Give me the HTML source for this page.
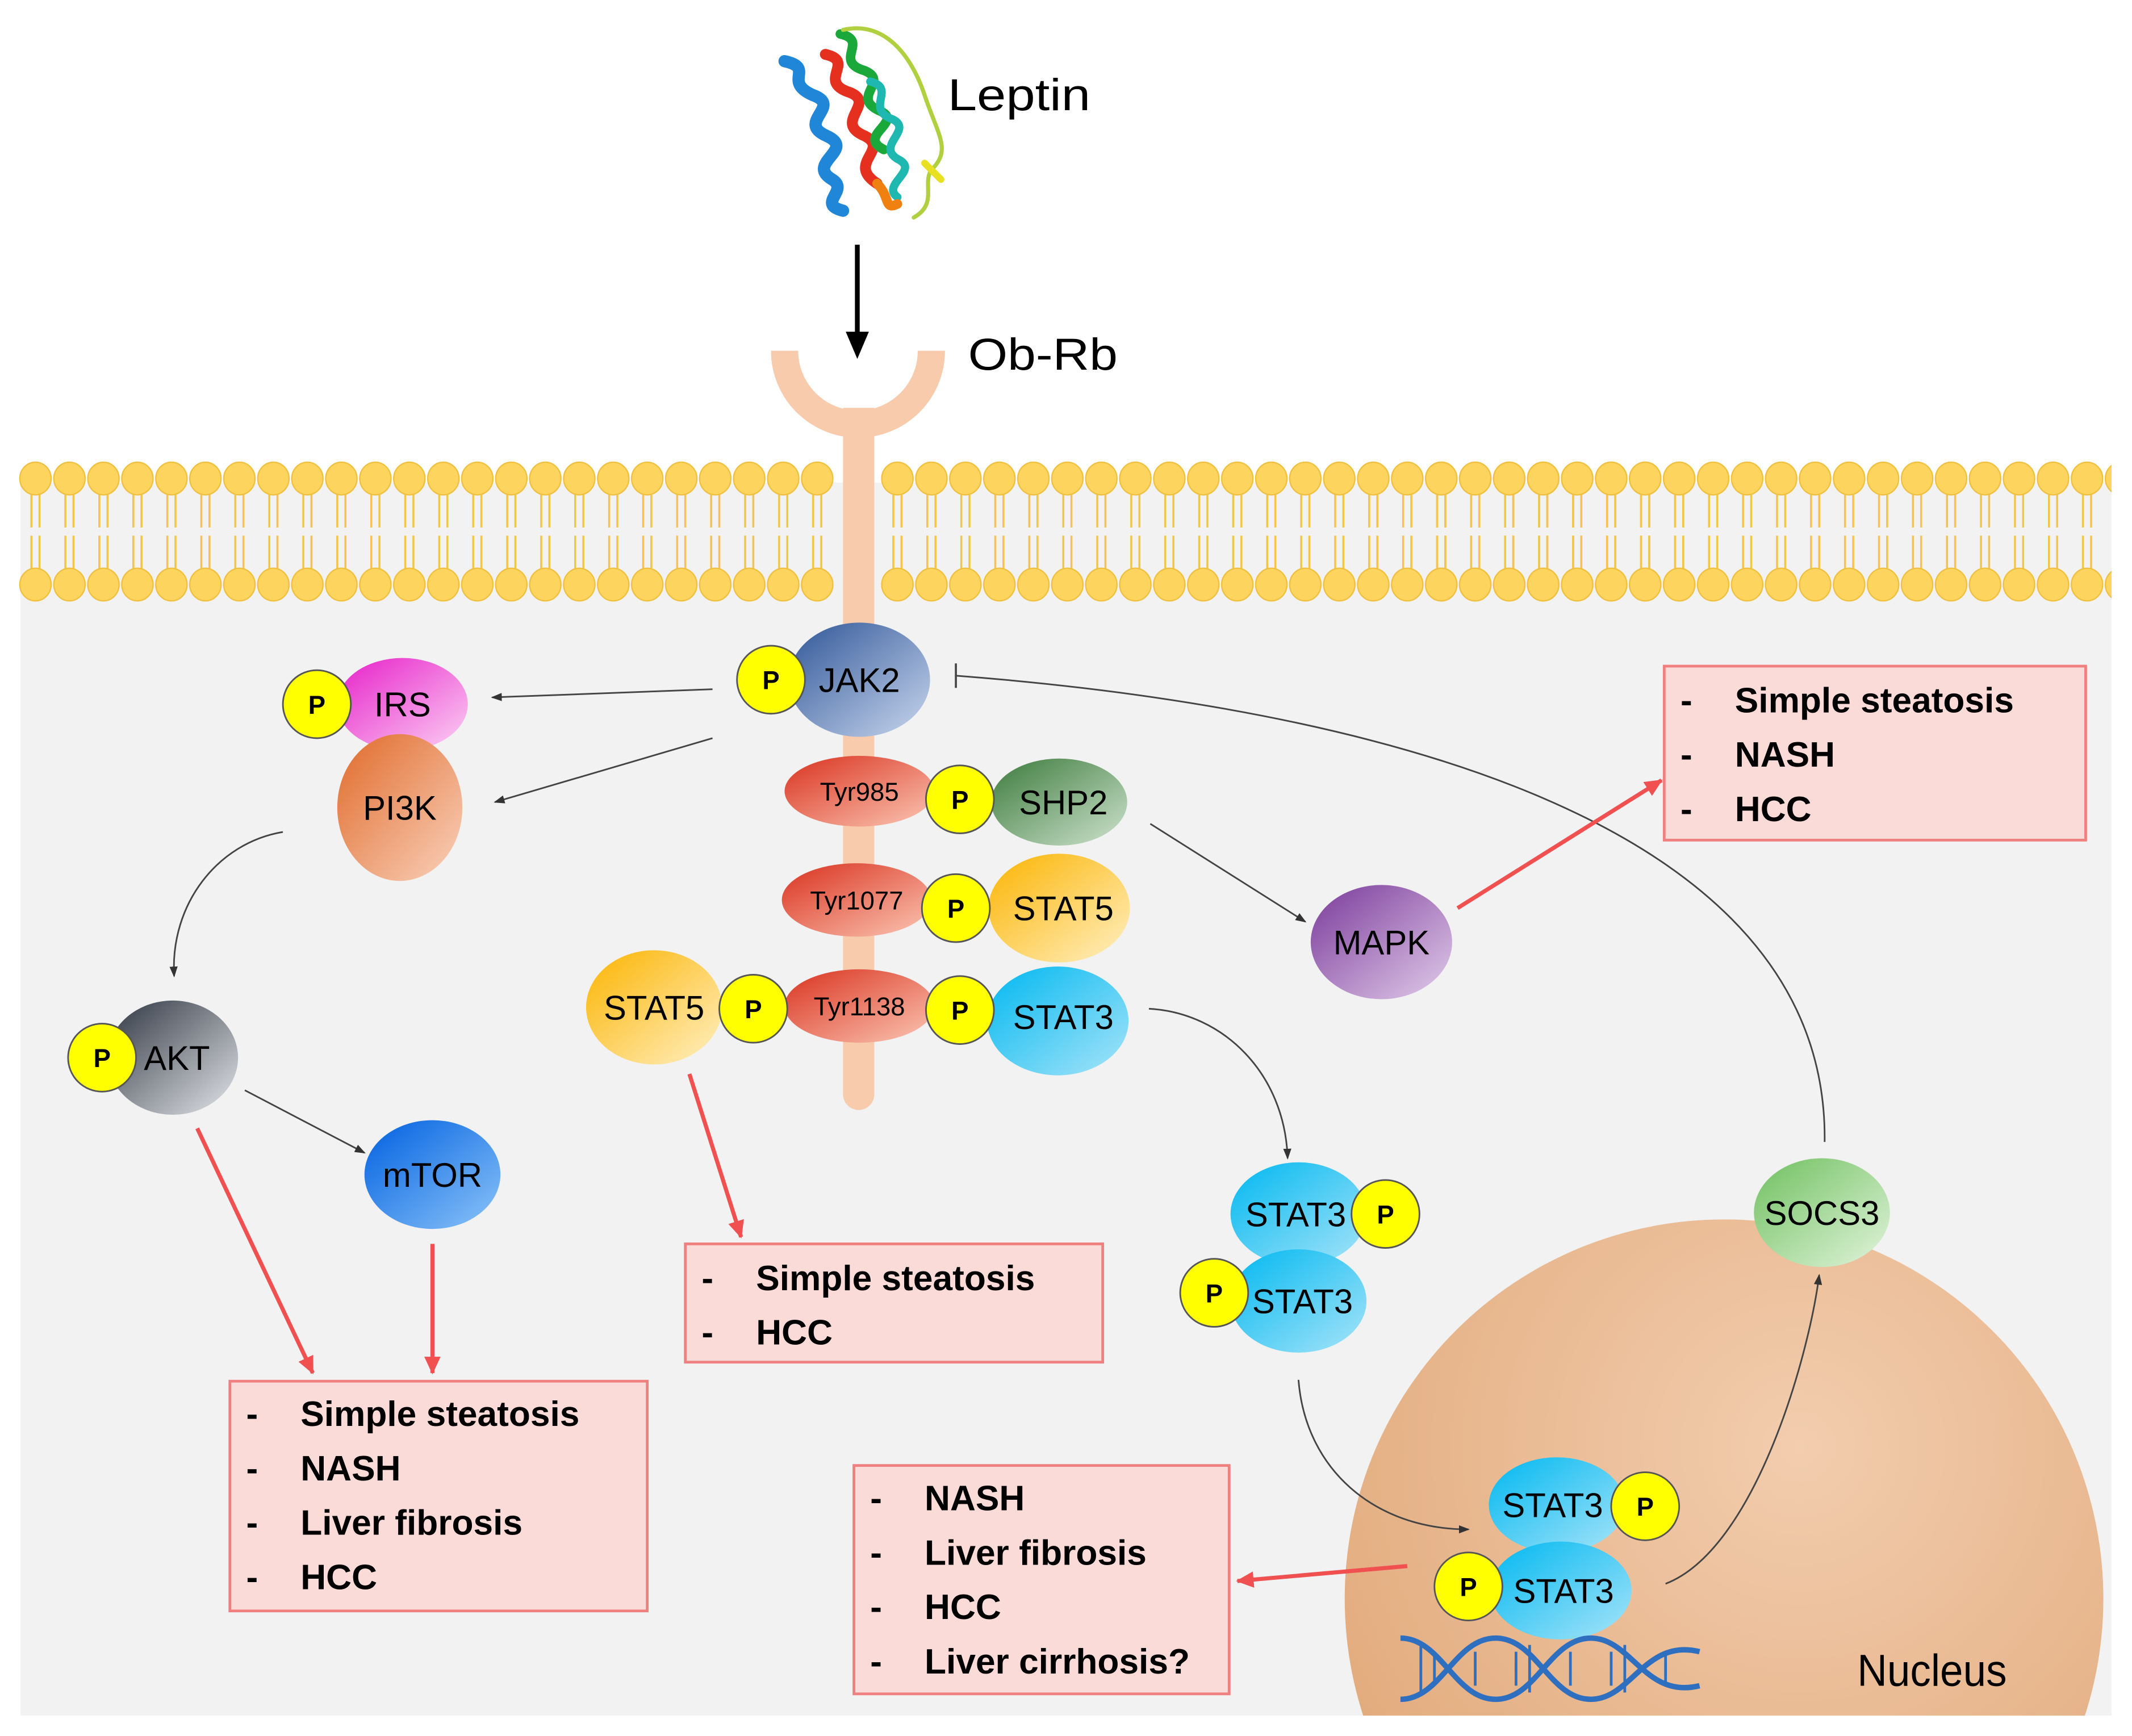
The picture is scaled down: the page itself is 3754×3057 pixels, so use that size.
<!DOCTYPE html>
<html><head><meta charset="utf-8"><style>
html,body{margin:0;padding:0;background:#fff;width:3754px;height:3057px;overflow:hidden}
svg{display:block}
text{font-family:"Liberation Sans",sans-serif}
</style></head><body>
<svg width="3754" height="3057" viewBox="0 0 1568 1277" xmlns="http://www.w3.org/2000/svg">
<defs>
<linearGradient id="gJ" x1="0" y1="0" x2="1" y2="1"><stop offset="0" stop-color="#2f5597"/><stop offset="1" stop-color="#c9d7ee"/></linearGradient>
<linearGradient id="gI" x1="0" y1="0" x2="1" y2="1"><stop offset="0" stop-color="#e61fc8"/><stop offset="1" stop-color="#fcd2f4"/></linearGradient>
<linearGradient id="gP" x1="0" y1="0" x2="1" y2="1"><stop offset="0" stop-color="#e06a2a"/><stop offset="1" stop-color="#f9d2bd"/></linearGradient>
<linearGradient id="gA" x1="0" y1="0" x2="1" y2="1"><stop offset="0" stop-color="#2e3540"/><stop offset="1" stop-color="#e4e6ea"/></linearGradient>
<linearGradient id="gM" x1="0" y1="0" x2="1" y2="1"><stop offset="0" stop-color="#0060e0"/><stop offset="1" stop-color="#8cc4f8"/></linearGradient>
<linearGradient id="gT" x1="0" y1="0" x2="1" y2="1"><stop offset="0" stop-color="#d9321e"/><stop offset="1" stop-color="#fbc7b5"/></linearGradient>
<linearGradient id="gS" x1="0" y1="0" x2="1" y2="1"><stop offset="0" stop-color="#3c7a3c"/><stop offset="1" stop-color="#cfe3cf"/></linearGradient>
<linearGradient id="g5" x1="0" y1="0" x2="1" y2="1"><stop offset="0" stop-color="#fbb400"/><stop offset="1" stop-color="#fff0c4"/></linearGradient>
<linearGradient id="g3" x1="0" y1="0" x2="1" y2="1"><stop offset="0" stop-color="#00b8f0"/><stop offset="1" stop-color="#a8e4f8"/></linearGradient>
<linearGradient id="gK" x1="0" y1="0" x2="1" y2="1"><stop offset="0" stop-color="#7a3a9a"/><stop offset="1" stop-color="#e2cdea"/></linearGradient>
<linearGradient id="gO" x1="0" y1="0" x2="1" y2="1"><stop offset="0" stop-color="#70c060"/><stop offset="1" stop-color="#e2f4dc"/></linearGradient>
<radialGradient id="gN" cx="0.6" cy="0.3" r="0.8"><stop offset="0" stop-color="#f2cdae"/><stop offset="1" stop-color="#e0a676"/></radialGradient>
<marker id="ab" markerWidth="8" markerHeight="8" refX="7" refY="4" orient="auto" markerUnits="userSpaceOnUse"><path d="M0,1 L8,4 L0,7z" fill="#333"/></marker>
<marker id="ar" markerWidth="14" markerHeight="14" refX="12" refY="7" orient="auto" markerUnits="userSpaceOnUse"><path d="M0,1 L13,7 L0,13z" fill="#f05050"/></marker>
<clipPath id="memclip"><rect x="0" y="0" width="1553" height="1277"/></clipPath>
<clipPath id="cl"><rect x="0" y="0" width="1568" height="1262"/></clipPath>
</defs>

<rect x="15" y="355" width="1538" height="907" fill="#f2f2f2"/>

<g stroke="#f3c54a" stroke-width="1.5" fill="none" clip-path="url(#memclip)">
<path id="tails" d="M23 362V388M29 362V388M23 394V420M29 394V420M48 362V388M54 362V388M48 394V420M54 394V420M73 362V388M79 362V388M73 394V420M79 394V420M98 362V388M104 362V388M98 394V420M104 394V420M123 362V388M129 362V388M123 394V420M129 394V420M148 362V388M154 362V388M148 394V420M154 394V420M173 362V388M179 362V388M173 394V420M179 394V420M198 362V388M204 362V388M198 394V420M204 394V420M223 362V388M229 362V388M223 394V420M229 394V420M248 362V388M254 362V388M248 394V420M254 394V420M273 362V388M279 362V388M273 394V420M279 394V420M298 362V388M304 362V388M298 394V420M304 394V420M323 362V388M329 362V388M323 394V420M329 394V420M348 362V388M354 362V388M348 394V420M354 394V420M373 362V388M379 362V388M373 394V420M379 394V420M398 362V388M404 362V388M398 394V420M404 394V420M423 362V388M429 362V388M423 394V420M429 394V420M448 362V388M454 362V388M448 394V420M454 394V420M473 362V388M479 362V388M473 394V420M479 394V420M498 362V388M504 362V388M498 394V420M504 394V420M523 362V388M529 362V388M523 394V420M529 394V420M548 362V388M554 362V388M548 394V420M554 394V420M573 362V388M579 362V388M573 394V420M579 394V420M598 362V388M604 362V388M598 394V420M604 394V420"/>
<use href="#tails" transform="translate(634 0)"/>
<use href="#tails" transform="translate(1034 0)"/>
</g>
<g fill="#fcd45e" stroke="#f0c040" stroke-width="1" clip-path="url(#memclip)">
<g id="heads">
<ellipse cx="26" cy="352" rx="11.5" ry="12"/><ellipse cx="51" cy="352" rx="11.5" ry="12"/><ellipse cx="76" cy="352" rx="11.5" ry="12"/><ellipse cx="101" cy="352" rx="11.5" ry="12"/><ellipse cx="126" cy="352" rx="11.5" ry="12"/><ellipse cx="151" cy="352" rx="11.5" ry="12"/><ellipse cx="176" cy="352" rx="11.5" ry="12"/><ellipse cx="201" cy="352" rx="11.5" ry="12"/><ellipse cx="226" cy="352" rx="11.5" ry="12"/><ellipse cx="251" cy="352" rx="11.5" ry="12"/><ellipse cx="276" cy="352" rx="11.5" ry="12"/><ellipse cx="301" cy="352" rx="11.5" ry="12"/><ellipse cx="326" cy="352" rx="11.5" ry="12"/><ellipse cx="351" cy="352" rx="11.5" ry="12"/><ellipse cx="376" cy="352" rx="11.5" ry="12"/><ellipse cx="401" cy="352" rx="11.5" ry="12"/><ellipse cx="426" cy="352" rx="11.5" ry="12"/><ellipse cx="451" cy="352" rx="11.5" ry="12"/><ellipse cx="476" cy="352" rx="11.5" ry="12"/><ellipse cx="501" cy="352" rx="11.5" ry="12"/><ellipse cx="526" cy="352" rx="11.5" ry="12"/><ellipse cx="551" cy="352" rx="11.5" ry="12"/><ellipse cx="576" cy="352" rx="11.5" ry="12"/><ellipse cx="601" cy="352" rx="11.5" ry="12"/>
<ellipse cx="26" cy="430" rx="11.5" ry="12"/><ellipse cx="51" cy="430" rx="11.5" ry="12"/><ellipse cx="76" cy="430" rx="11.5" ry="12"/><ellipse cx="101" cy="430" rx="11.5" ry="12"/><ellipse cx="126" cy="430" rx="11.5" ry="12"/><ellipse cx="151" cy="430" rx="11.5" ry="12"/><ellipse cx="176" cy="430" rx="11.5" ry="12"/><ellipse cx="201" cy="430" rx="11.5" ry="12"/><ellipse cx="226" cy="430" rx="11.5" ry="12"/><ellipse cx="251" cy="430" rx="11.5" ry="12"/><ellipse cx="276" cy="430" rx="11.5" ry="12"/><ellipse cx="301" cy="430" rx="11.5" ry="12"/><ellipse cx="326" cy="430" rx="11.5" ry="12"/><ellipse cx="351" cy="430" rx="11.5" ry="12"/><ellipse cx="376" cy="430" rx="11.5" ry="12"/><ellipse cx="401" cy="430" rx="11.5" ry="12"/><ellipse cx="426" cy="430" rx="11.5" ry="12"/><ellipse cx="451" cy="430" rx="11.5" ry="12"/><ellipse cx="476" cy="430" rx="11.5" ry="12"/><ellipse cx="501" cy="430" rx="11.5" ry="12"/><ellipse cx="526" cy="430" rx="11.5" ry="12"/><ellipse cx="551" cy="430" rx="11.5" ry="12"/><ellipse cx="576" cy="430" rx="11.5" ry="12"/><ellipse cx="601" cy="430" rx="11.5" ry="12"/>
</g>
<use href="#heads" transform="translate(634 0)"/>
<use href="#heads" transform="translate(1034 0)"/>
</g>

<path d="M567 258 A64 64 0 0 0 695 258 L675 258 A44 44 0 0 1 587 258Z" fill="#f8cbad"/>
<rect x="620" y="300" width="23" height="505" fill="#f8cbad"/>
<circle cx="631.5" cy="805" r="11.5" fill="#f8cbad"/>

<g fill="none" stroke-linecap="round">
<path d="M577 45 C600 50,575 60,598 70 C620 78,585 90,608 100 C630 110,592 120,612 132 C625 140,600 150,620 155" stroke="#1f86d8" stroke-width="9"/>
<path d="M607 40 C630 45,600 60,625 68 C645 76,612 90,636 100 C655 110,622 120,645 135" stroke="#e53020" stroke-width="8"/>
<path d="M618 25 C640 30,612 45,636 52 C655 60,624 72,648 82 C664 90,630 100,650 110" stroke="#1aa83a" stroke-width="7"/>
<path d="M640 60 C660 65,635 80,657 88 C672 96,642 108,662 118 C675 126,648 136,660 145" stroke="#1fb8b0" stroke-width="6"/>
<path d="M645 135 C655 145,650 155,660 150" stroke="#f08010" stroke-width="7"/>
<path d="M620 22 C650 15,670 40,680 70 C690 100,700 110,685 125 C678 135,690 150,672 160" stroke="#b0d040" stroke-width="3"/>
<path d="M680 120 L692 132" stroke="#e8e020" stroke-width="5"/>
</g>

<text x="697" y="81" font-size="33" textLength="105" lengthAdjust="spacingAndGlyphs">Leptin</text>
<text x="712" y="272" font-size="33" textLength="110" lengthAdjust="spacingAndGlyphs">Ob-Rb</text>
<line x1="630.5" y1="180" x2="630.5" y2="248" stroke="#000" stroke-width="3.5"/>
<path d="M622 244 L639 244 L630.5 264Z" fill="#000"/>

<circle cx="1268" cy="1176" r="279" fill="url(#gN)" clip-path="url(#cl)"/>
<text x="1366" y="1240" font-size="33" textLength="110" lengthAdjust="spacingAndGlyphs">Nucleus</text>

<g stroke="#444" stroke-width="1.2" fill="none" marker-end="url(#ab)">
<line x1="524" y1="507" x2="362" y2="513"/>
<line x1="524" y1="543" x2="364" y2="590"/>
<path d="M208 612 C160 620,125 665,128 718"/>
<line x1="180" y1="802" x2="268" y2="848"/>
<line x1="846" y1="606" x2="960" y2="678"/>
<path d="M845 742 C900 745,945 790,947 852"/>
<path d="M955 1015 C960 1080,1010 1125,1080 1125"/>
<path d="M1225 1165 C1290 1140,1330 1000,1338 938"/>
</g>
<path d="M1342 840 C1345 600,1000 520,703 497" stroke="#444" stroke-width="1.2" fill="none"/>
<line x1="703" y1="488" x2="703" y2="506" stroke="#444" stroke-width="1.5"/>

<g stroke="#f05050" stroke-width="3" fill="none" marker-end="url(#ar)">
<line x1="145" y1="830" x2="230" y2="1010"/>
<line x1="318" y1="915" x2="318" y2="1010"/>
<line x1="507" y1="790" x2="545" y2="910"/>
<line x1="1072" y1="668" x2="1222" y2="574"/>
<line x1="1035" y1="1152" x2="910" y2="1163"/>
</g>

<g font-size="25" text-anchor="middle">
<ellipse cx="632" cy="500" rx="52" ry="42" fill="url(#gJ)"/><text x="632" y="509">JAK2</text>
<ellipse cx="296" cy="518" rx="48" ry="34" fill="url(#gI)"/><text x="296" y="527">IRS</text>
<ellipse cx="294" cy="594" rx="46" ry="54" fill="url(#gP)"/><text x="294" y="603">PI3K</text>
<ellipse cx="127" cy="778" rx="48" ry="42" fill="url(#gA)"/><text x="130" y="787">AKT</text>
<ellipse cx="318" cy="864" rx="50" ry="40" fill="url(#gM)"/><text x="318" y="873">mTOR</text>
<ellipse cx="632" cy="582" rx="55" ry="26" fill="url(#gT)"/><text x="632" y="589" font-size="19">Tyr985</text>
<ellipse cx="779" cy="590" rx="50" ry="32" fill="url(#gS)"/><text x="782" y="599">SHP2</text>
<ellipse cx="630" cy="662" rx="55" ry="27" fill="url(#gT)"/><text x="630" y="669" font-size="19">Tyr1077</text>
<ellipse cx="779" cy="668" rx="52" ry="40" fill="url(#g5)"/><text x="782" y="677">STAT5</text>
<ellipse cx="481" cy="741" rx="50" ry="42" fill="url(#g5)"/><text x="481" y="750">STAT5</text>
<ellipse cx="632" cy="740" rx="55" ry="27" fill="url(#gT)"/><text x="632" y="747" font-size="19">Tyr1138</text>
<ellipse cx="778" cy="751" rx="52" ry="40" fill="url(#g3)"/><text x="782" y="757">STAT3</text>
<ellipse cx="1016" cy="693" rx="52" ry="42" fill="url(#gK)"/><text x="1016" y="702">MAPK</text>
<ellipse cx="955" cy="893" rx="50" ry="38" fill="url(#g3)"/><text x="953" y="902">STAT3</text>
<ellipse cx="955" cy="957" rx="50" ry="38" fill="url(#g3)"/><text x="958" y="966">STAT3</text>
<ellipse cx="1340" cy="892" rx="50" ry="40" fill="url(#gO)"/><text x="1340" y="901">SOCS3</text>
<ellipse cx="1145" cy="1107" rx="50" ry="35" fill="url(#g3)"/><text x="1142" y="1116">STAT3</text>
<ellipse cx="1148" cy="1170" rx="52" ry="36" fill="url(#g3)"/><text x="1150" y="1179">STAT3</text>
</g>

<g fill="#ffff00" stroke="#555" stroke-width="1.2">
<circle cx="567" cy="500" r="25"/><circle cx="233" cy="518" r="25"/><circle cx="75" cy="778" r="25"/>
<circle cx="706" cy="588" r="25"/><circle cx="703" cy="668" r="25"/><circle cx="554" cy="742" r="25"/>
<circle cx="706" cy="743" r="25"/><circle cx="1019" cy="893" r="25"/><circle cx="893" cy="951" r="25"/>
<circle cx="1210" cy="1108" r="25"/><circle cx="1080" cy="1167" r="25"/>
</g>
<g font-size="19" font-weight="bold" text-anchor="middle">
<text x="567" y="507">P</text><text x="233" y="525">P</text><text x="75" y="785">P</text>
<text x="706" y="595">P</text><text x="703" y="675">P</text><text x="554" y="749">P</text>
<text x="706" y="750">P</text><text x="1019" y="900">P</text><text x="893" y="958">P</text>
<text x="1210" y="1115">P</text><text x="1080" y="1174">P</text>
</g>

<g fill="none" stroke="#2e6fc0" stroke-width="4">
<path d="M1030 1205 C1060 1205,1070 1250,1100 1250 C1130 1250,1140 1205,1170 1205 C1200 1205,1210 1250,1250 1240"/>
<path d="M1030 1250 C1060 1250,1070 1205,1100 1205 C1130 1205,1140 1250,1170 1250 C1200 1250,1210 1205,1250 1215"/>
</g>
<g stroke="#2e6fc0" stroke-width="2">
<path d="M1045 1210V1245M1055 1215V1240M1085 1215V1240M1115 1215V1240M1125 1210V1245M1155 1215V1240M1185 1215V1240M1195 1210V1245M1225 1215V1240"/>
</g>

<g fill="#fadbd8" stroke="#f08080" stroke-width="2">
<rect x="1224" y="490" width="310" height="128"/>
<rect x="504" y="915" width="307" height="87"/>
<rect x="169" y="1016" width="307" height="169"/>
<rect x="628" y="1078" width="276" height="168"/>
</g>
<g font-size="26" font-weight="bold">
<text x="1236" y="524">-</text><text x="1276" y="524">Simple steatosis</text>
<text x="1236" y="564">-</text><text x="1276" y="564">NASH</text>
<text x="1236" y="604">-</text><text x="1276" y="604">HCC</text>
<text x="516" y="949">-</text><text x="556" y="949">Simple steatosis</text>
<text x="516" y="989">-</text><text x="556" y="989">HCC</text>
<text x="181" y="1049">-</text><text x="221" y="1049">Simple steatosis</text>
<text x="181" y="1089">-</text><text x="221" y="1089">NASH</text>
<text x="181" y="1129">-</text><text x="221" y="1129">Liver fibrosis</text>
<text x="181" y="1169">-</text><text x="221" y="1169">HCC</text>
<text x="640" y="1111">-</text><text x="680" y="1111">NASH</text>
<text x="640" y="1151">-</text><text x="680" y="1151">Liver fibrosis</text>
<text x="640" y="1191">-</text><text x="680" y="1191">HCC</text>
<text x="640" y="1231">-</text><text x="680" y="1231">Liver cirrhosis?</text>
</g>
</svg>
</body></html>
